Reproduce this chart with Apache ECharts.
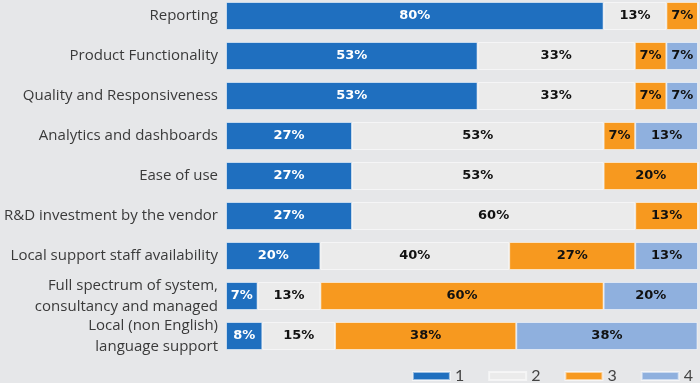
<!DOCTYPE html>
<html>
<head>
<meta charset="utf-8">
<script src="https://cdn.jsdelivr.net/npm/echarts@6/dist/echarts.min.js"></script>
<style>
html,body{margin:0;padding:0;background:#e6e7e9;}
#c{width:700px;height:383px;}
</style>
</head>
<body>
<div id="c"></div>
<script>
var categories = [
  'Reporting',
  'Product Functionality',
  'Quality and Responsiveness',
  'Analytics and dashboards',
  'Ease of use',
  'R&D investment by the vendor',
  'Local support staff availability',
  'Full spectrum of system,\nconsultancy and managed',
  'Local (non English)\nlanguage support'
];
var seriesNames = ['1', '2', '3', '4'];
var s1 = [80, 53.3, 53.3, 26.7, 26.7, 26.7, 20, 6.7, 7.7];
var s2 = [13.3, 33.3, 33.3, 53.3, 53.3, 60, 40, 13.3, 15.4];
var s3 = [6.7, 6.7, 6.7, 6.7, 20, 13.3, 26.7, 60, 38.4];
var s4 = [0, 6.7, 6.7, 13.3, 0, 0, 13.3, 20, 38.4];
var colors = ['#1f6fbf', '#ebebeb', '#f7991f', '#8fb0de'];
var labelColors = ['#ffffff', '#111111', '#111111', '#111111'];

var chart = echarts.init(document.getElementById('c'), null, {renderer: 'canvas'});
var allData = [s1, s2, s3, s4];
var series = allData.map(function (d, i) {
  return {
    name: seriesNames[i],
    type: 'bar',
    stack: 'total',
    barWidth: 28,
    data: d,
    itemStyle: {color: colors[i], borderColor: 'rgba(255,255,255,0.55)', borderWidth: 1},
    label: {
      show: true,
      position: 'inside',
      color: labelColors[i],
      fontFamily: 'DejaVu Sans',
      fontWeight: 'bold',
      fontSize: 13,
      formatter: function (p) { return p.value > 0 ? Math.round(p.value) + '%' : ''; }
    },
    emphasis: {disabled: true}
  };
});

chart.setOption({
  backgroundColor: '#e6e7e9',
  animation: false,
  color: colors,
  grid: {left: 226, right: 2, top: 16, height: 320, containLabel: false},
  legend: {
    data: seriesNames,
    right: 2,
    top: 363,
    itemWidth: 37,
    itemHeight: 8,
    itemGap: 24,
    icon: 'rect',
    textStyle: {fontSize: 16, color: '#444', fontFamily: 'Lato'}
  },
  xAxis: {
    type: 'value',
    min: 0,
    max: 100,
    show: false
  },
  yAxis: {
    type: 'category',
    inverse: true,
    boundaryGap: false,
    data: categories,
    axisLine: {show: false},
    axisTick: {show: false},
    splitLine: {show: false},
    axisLabel: {
      interval: 0,
      showMinLabel: true,
      showMaxLabel: true,
      hideOverlap: false,
      margin: 8,
      fontSize: 15,
      lineHeight: 21,
      color: '#3a3a3a',
      fontFamily: 'Open Sans'
    }
  },
  series: series
});
</script>
</body>
</html>
